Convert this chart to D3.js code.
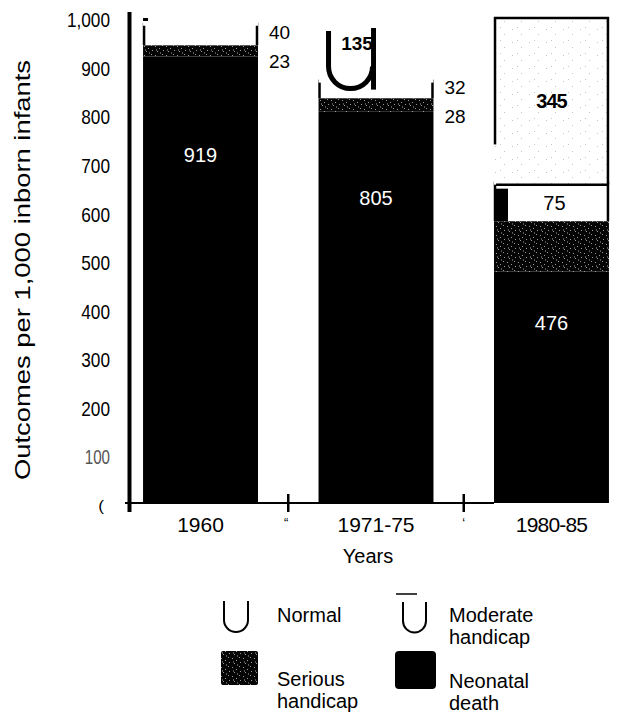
<!DOCTYPE html>
<html>
<head>
<meta charset="utf-8">
<script src="https://cdn.jsdelivr.net/npm/d3@7"></script>
<style>
  body { margin: 0; background: #fff; }
  svg { display: block; font-family: "Liberation Sans", Arial, sans-serif; }
</style>
</head>
<body>
<svg id="chart" width="617" height="713"></svg>
<script>
// ---- data ----
const categories = ["1960", "1971-75", "1980-85"];
const neonatalDeath = [919, 805, 476];
const seriousHandicap = [23, 28, 104];
const moderateHandicap = [40, 32, 75];
const normal = [18, 135, 345];
const tickValues = [0, 100, 200, 300, 400, 500, 600, 700, 800, 900, 1000];
const tickLabels = ["(", "100", "200", "300", "400", "500", "600", "700", "800", "900", "1,000"];
const legendItems = ["Normal", "Moderate handicap", "Serious handicap", "Neonatal death"];

const svg = d3.select("#chart");

// speckled texture for "serious handicap"
const defs = svg.append("defs");
const pat = defs.append("pattern").attr("id", "speckle").attr("patternUnits", "userSpaceOnUse")
  .attr("width", 11).attr("height", 9);
pat.append("rect").attr("width", 11).attr("height", 9).attr("fill", "#050505");
[[1,1],[5,3],[8,0],[3,6],[9,5]].forEach(([px,py]) =>
  pat.append("rect").attr("x", px).attr("y", py).attr("width", 1).attr("height", 1).attr("fill", "#9a9a9a"));
[[6,7],[2,4]].forEach(([px,py]) =>
  pat.append("rect").attr("x", px).attr("y", py).attr("width", 1).attr("height", 2).attr("fill", "#555"));
const pat2 = defs.append("pattern").attr("id", "light").attr("patternUnits", "userSpaceOnUse")
  .attr("width", 17).attr("height", 13);
pat2.append("rect").attr("width", 17).attr("height", 13).attr("fill", "#fff");
[[2,3],[11,8],[7,1]].forEach(([px,py]) =>
  pat2.append("rect").attr("x", px).attr("y", py).attr("width", 1).attr("height", 1).attr("fill", "#c4c4c4"));

const x = d3.scaleBand().domain(categories).range([125.5, 626.5]).paddingInner(0.345).paddingOuter(0.1);
const y = d3.scaleLinear().domain([0, 1000]).range([503, 17]);

const rows = categories.map((c, i) => ({
  cat: c, death: neonatalDeath[i], serious: seriousHandicap[i], moderate: moderateHandicap[i], normal: normal[i]
}));
const keys = ["death", "serious", "moderate", "normal"];
const stack = d3.stack().keys(keys)(rows);

const fills = { death: "#000", serious: "url(#speckle)", moderate: "#fff", normal: "#fff" };

function vline(g, xx, y1, y2) {
  g.append("line").attr("x1", xx).attr("x2", xx).attr("y1", y1).attr("y2", y2)
    .attr("stroke", "#000").attr("stroke-width", 2.5);
}
function hline(g, x1, x2, yy) {
  g.append("line").attr("x1", x1).attr("x2", x2).attr("y1", yy).attr("y2", yy)
    .attr("stroke", "#000").attr("stroke-width", 2.5);
}

stack.forEach(layer => {
  const g = svg.append("g");
  layer.forEach(d => {
    const x0 = x(d.data.cat), w = x.bandwidth();
    const yt = y(d[1]), yb = y(d[0]);
    const boxed = layer.key === "normal" && d.data.normal > 200;
    g.append("rect").attr("x", x0).attr("y", yt).attr("width", w).attr("height", yb - yt)
      .attr("fill", boxed ? "url(#light)" : fills[layer.key]);
    if (layer.key === "moderate") {
      vline(g, x0 + 1, yt - 3, yb);
      vline(g, x0 + w - 1, yt - 3, yb);
      if (d.data.normal > 200) {
        // dark left edge below the boxed segment, as in the scan
        g.append("rect").attr("x", x0).attr("y", yt + 4).attr("width", 14).attr("height", yb - yt - 4).attr("fill", "#000");
      }
    }
    if (boxed) {
      hline(g, x0, x0 + w, yt + 1);
      hline(g, x0 + 2, x0 + w, yb);
      vline(g, x0 + 1, yt, yt + (yb - yt) * 0.76);
      vline(g, x0 + w - 1, yt, yb);
    }
  });
});

// segment labels
rows.forEach(r => {
  const cx = x(r.cat) + x.bandwidth() / 2;
  svg.append("text").attr("x", cx).attr("y", y(r.death * 0.78)).attr("dy", "0.35em")
    .attr("text-anchor", "middle").attr("fill", "#fff").attr("font-size", 20).text(r.death);
  const modMid = r.death + r.serious + r.moderate / 2;
  const serMid = r.death + r.serious / 2;
  const normMid = r.death + r.serious + r.moderate + r.normal / 2;
  if (r.normal > 200) {
    svg.append("text").attr("x", cx + 3).attr("y", y(modMid)).attr("dy", "0.35em")
      .attr("text-anchor", "middle").attr("font-size", 20).text(r.moderate);
    svg.append("text").attr("x", cx).attr("y", y(normMid)).attr("dy", "0.35em")
      .attr("text-anchor", "middle").attr("font-size", 20).attr("font-weight", "bold")
      .attr("letter-spacing", -1).text(r.normal);
  } else {
    const lx = x(r.cat) + x.bandwidth() + 11;
    svg.append("text").attr("x", lx).attr("y", y(modMid) - 3).attr("dy", "0.35em")
      .attr("font-size", 19).text(r.moderate);
    svg.append("text").attr("x", lx).attr("y", y(serMid) + 11).attr("dy", "0.35em")
      .attr("font-size", 19).text(r.serious);
    if (r.normal > 50) {
      // stray "U" glyph from the scan overlapping the normal segment
      const ux = x(r.cat) + 10;
      const top = y(1000) + 12;
      const cyc = y(r.death + r.serious + r.moderate) - 16;
      svg.append("path")
        .attr("d", `M${ux},${top + 2} V${cyc} a22,22 0 0 0 44,0`)
        .attr("fill", "none").attr("stroke", "#000").attr("stroke-width", 5);
      svg.append("line").attr("x1", ux + 45).attr("x2", ux + 45).attr("y1", top - 1).attr("y2", cyc + 23)
        .attr("stroke", "#000").attr("stroke-width", 5);
      svg.append("text").attr("x", cx - 19).attr("y", y(normMid) - 6).attr("dy", "0.35em")
        .attr("text-anchor", "middle").attr("font-size", 19).attr("font-weight", "bold").text(r.normal);
    } else {
      svg.append("rect").attr("x", x(r.cat)).attr("y", y(1000) + 1).attr("width", 5).attr("height", 3).attr("fill", "#000");
    }
  }
});

// y axis (labels only) + thick axis line
const yAxis = svg.append("g").attr("transform", "translate(110,3)")
  .call(d3.axisLeft(y).tickValues(tickValues).tickSize(0).tickPadding(0)
    .tickFormat((d, i) => tickLabels[i]));
yAxis.select(".domain").remove();
yAxis.selectAll("text").attr("font-size", 21).attr("fill", "#000")
  .attr("font-family", "'Liberation Sans', Arial, sans-serif")
  .each(function (d, i) {
    const len = this.getComputedTextLength();
    d3.select(this).attr("textLength", len * (tickLabels[i] === "100" ? 0.72 : 0.82)).attr("lengthAdjust", "spacingAndGlyphs");
  });
yAxis.selectAll("text").filter((d, i) => tickLabels[i] === "100").attr("fill", "#555").attr("font-size", 20);
yAxis.selectAll("text").filter((d, i) => tickLabels[i] === "(").attr("font-size", 15).attr("dx", -6);
svg.append("line").attr("x1", 129.5).attr("x2", 129.5).attr("y1", 12).attr("y2", 512)
  .attr("stroke", "#000").attr("stroke-width", 4);

// baseline and category separators
svg.append("line").attr("x1", 125).attr("x2", 494).attr("y1", 503).attr("y2", 503)
  .attr("stroke", "#000").attr("stroke-width", 2);
const gap = (x.step() - x.bandwidth()) / 2;
const seps = [x(categories[0]) + x.bandwidth() + gap, x(categories[1]) + x.bandwidth() + gap];
seps.forEach(sx => {
  svg.append("line").attr("x1", sx).attr("x2", sx).attr("y1", 494).attr("y2", 512)
    .attr("stroke", "#000").attr("stroke-width", 2.5);
});
svg.append("text").attr("x", seps[0] - 2).attr("y", 527).attr("text-anchor", "middle").attr("font-size", 13).text("\u201C");
svg.append("text").attr("x", seps[1]).attr("y", 527).attr("text-anchor", "middle").attr("font-size", 13).text("\u2018");

// x category labels
const xAxis = svg.append("g").attr("transform", "translate(0,517)")
  .call(d3.axisBottom(x).tickSize(0).tickPadding(0));
xAxis.select(".domain").remove();
xAxis.selectAll("text").attr("font-size", 21).attr("fill", "#000")
  .attr("font-family", "'Liberation Sans', Arial, sans-serif");
xAxis.selectAll("text").filter(d => d === "1980-85").attr("letter-spacing", -0.8);

// axis titles
svg.append("text").attr("x", 368).attr("y", 563).attr("text-anchor", "middle").attr("font-size", 20).text("Years");
svg.append("text").attr("transform", "translate(30,270) rotate(-90)").attr("text-anchor", "middle")
  .attr("font-size", 22).attr("textLength", 420).attr("lengthAdjust", "spacingAndGlyphs")
  .text("Outcomes per 1,000 inborn infants");

// legend
const lg = svg.append("g");
lg.append("path").attr("d", "M224,601 V620 a12,12 0 0 0 24,0 V601").attr("fill", "none").attr("stroke", "#000").attr("stroke-width", 2);
lg.append("text").attr("x", 277).attr("y", 622).attr("font-size", 20).text(legendItems[0]);
lg.append("path").attr("d", "M403,602 V621 a11.5,11.5 0 0 0 23,0 V602").attr("fill", "none").attr("stroke", "#000").attr("stroke-width", 2);
lg.append("line").attr("x1", 396).attr("x2", 417).attr("y1", 594).attr("y2", 594).attr("stroke", "#000").attr("stroke-width", 1.5);
lg.append("text").attr("x", 449).attr("y", 622).attr("font-size", 20).text("Moderate");
lg.append("text").attr("x", 449).attr("y", 644).attr("font-size", 20).text("handicap");
lg.append("rect").attr("x", 221).attr("y", 651).attr("width", 37).attr("height", 34).attr("rx", 2).attr("fill", "url(#speckle)");
lg.append("text").attr("x", 277).attr("y", 686).attr("font-size", 20).text("Serious");
lg.append("text").attr("x", 277).attr("y", 708).attr("font-size", 20).text("handicap");
lg.append("rect").attr("x", 395).attr("y", 651).attr("width", 41).attr("height", 38).attr("rx", 4).attr("fill", "#000");
lg.append("text").attr("x", 449).attr("y", 688).attr("font-size", 20).text("Neonatal");
lg.append("text").attr("x", 449).attr("y", 710).attr("font-size", 20).text("death");
</script>
</body>
</html>
